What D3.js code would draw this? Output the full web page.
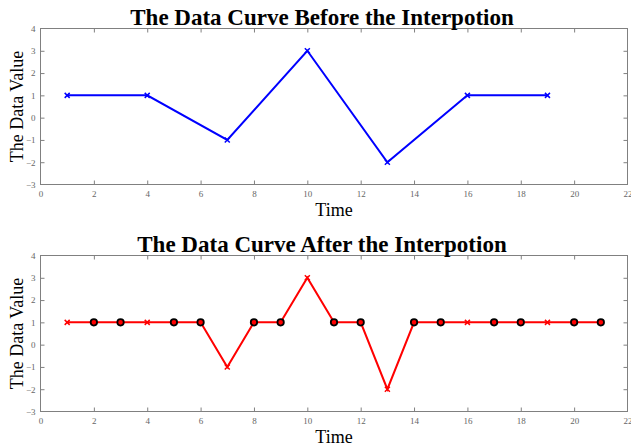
<!DOCTYPE html>
<html>
<head>
<meta charset="utf-8">
<script src="https://cdn.jsdelivr.net/npm/d3@7/dist/d3.min.js"></script>
<style>
  html, body { margin: 0; padding: 0; background: #fff; }
  svg { display: block; }
</style>
</head>
<body>
<svg id="chart" width="631" height="447"></svg>
<script>
// Original samples (every third time step)
const timesBefore = [1, 4, 7, 10, 13, 16, 19];
const valuesBefore = [1, 1, -1, 3, -2, 1, 1];

// Full curve after filling the gaps
const timesAfter = [1, 2, 3, 4, 5, 6, 7, 8, 9, 10, 11, 12, 13, 14, 15, 16, 17, 18, 19, 20, 21];
const valuesAfter = [1, 1, 1, 1, 1, 1, -1, 1, 1, 3, 1, 1, -2, 1, 1, 1, 1, 1, 1, 1, 1];

const xTicks = [0, 2, 4, 6, 8, 10, 12, 14, 16, 18, 20, 22];
const yTicks = [-3, -2, -1, 0, 1, 2, 3, 4];

const titles = ["The Data Curve Before the Interpotion", "The Data Curve After the Interpotion"];

const svg = d3.select("#chart");
const serif = "'Liberation Serif', 'DejaVu Serif', serif";
const axisGray = "#808080";

const left = 40.5, right = 627.5;

function panel(top, bottom, title, drawSeries) {
  const x = d3.scaleLinear().domain([0, 22]).range([left, right]);
  const y = d3.scaleLinear().domain([-3, 4]).range([bottom, top]);
  const g = svg.append("g");

  // frame
  g.append("rect")
    .attr("x", left).attr("y", top)
    .attr("width", right - left).attr("height", bottom - top)
    .attr("fill", "none").attr("stroke", axisGray).attr("stroke-width", 1);

  const tickLen = 4;
  const fmt = d3.format("d");
  const xb = g.append("g").attr("transform", `translate(0,${bottom})`)
    .call(d3.axisBottom(x).tickValues(xTicks).tickFormat(fmt).tickSizeInner(-tickLen).tickSizeOuter(0).tickPadding(6));
  const xt = g.append("g").attr("transform", `translate(0,${top})`)
    .call(d3.axisTop(x).tickValues(xTicks).tickSizeInner(-tickLen).tickSizeOuter(0).tickFormat(""));
  const yl = g.append("g").attr("transform", `translate(${left},0)`)
    .call(d3.axisLeft(y).tickValues(yTicks).tickFormat(fmt).tickSizeInner(-tickLen).tickSizeOuter(0).tickPadding(5));
  const yr = g.append("g").attr("transform", `translate(${right},0)`)
    .call(d3.axisRight(y).tickValues(yTicks).tickSizeInner(-tickLen).tickSizeOuter(0).tickFormat(""));

  [xb, xt, yl, yr].forEach(a => {
    a.select(".domain").remove();
    a.selectAll(".tick line").attr("stroke", axisGray);
    a.selectAll(".tick text")
      .attr("fill", "#666")
      .style("font-family", serif)
      .style("font-size", "9px");
  });
  // no tick marks at the frame corners
  [xb, xt].forEach(a => a.selectAll(".tick").filter(d => d === 0 || d === 22).select("line").remove());
  [yl, yr].forEach(a => a.selectAll(".tick").filter(d => d === -3 || d === 4).select("line").remove());

  // title
  g.append("text")
    .attr("x", (left + right) / 2 - 12).attr("y", top - 4)
    .attr("text-anchor", "middle")
    .style("font-family", serif).style("font-weight", "bold").style("font-size", "23px")
    .text(title);

  // axis labels
  g.append("text")
    .attr("x", (left + right) / 2).attr("y", bottom + 31)
    .attr("text-anchor", "middle")
    .style("font-family", serif).style("font-size", "18px")
    .text("Time");
  g.append("text")
    .attr("transform", `translate(23,${(top + bottom) / 2}) rotate(-90)`)
    .attr("text-anchor", "middle")
    .style("font-family", serif).style("font-size", "18px")
    .text("The Data Value");

  drawSeries(g, x, y);
}

function crosses(g, xs, ys, x, y, color) {
  const s = 2.5;
  g.append("g").selectAll("path").data(xs.map((t, i) => [t, ys[i]])).join("path")
    .attr("d", d => {
      const cx = x(d[0]), cy = y(d[1]);
      return `M${cx - s},${cy - s}L${cx + s},${cy + s}M${cx - s},${cy + s}L${cx + s},${cy - s}`;
    })
    .attr("stroke", color).attr("stroke-width", 1.5).attr("fill", "none");
}

// Top panel: original samples
panel(28.5, 184.5, titles[0], (g, x, y) => {
  const line = d3.line().x((d, i) => x(timesBefore[i])).y(d => y(d));
  g.append("path").datum(valuesBefore)
    .attr("d", line).attr("fill", "none")
    .attr("stroke", "#0000ff").attr("stroke-width", 2).attr("stroke-linejoin", "miter");
  crosses(g, timesBefore, valuesBefore, x, y, "#0000ff");
});

// Bottom panel: interpolated curve with filled-in points circled
panel(255.5, 411.5, titles[1], (g, x, y) => {
  const line = d3.line().x((d, i) => x(timesAfter[i])).y(d => y(d));
  g.append("path").datum(valuesAfter)
    .attr("d", line).attr("fill", "none")
    .attr("stroke", "#ff0000").attr("stroke-width", 2).attr("stroke-linejoin", "miter");
  crosses(g, timesBefore, valuesBefore, x, y, "#ff0000");
  const filled = timesAfter.map((t, i) => [t, valuesAfter[i]]).filter(d => !timesBefore.includes(d[0]));
  g.append("g").selectAll("circle").data(filled).join("circle")
    .attr("cx", d => x(d[0])).attr("cy", d => y(d[1]))
    .attr("r", 3.2)
    .attr("fill", "#ff0000").attr("stroke", "#000").attr("stroke-width", 1.8);
});
</script>
</body>
</html>
